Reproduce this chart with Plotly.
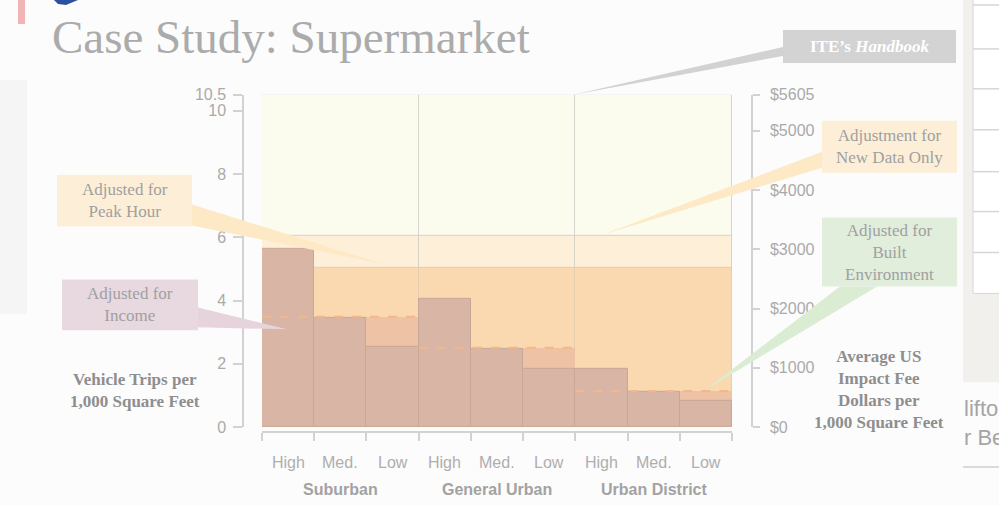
import plotly.graph_objects as go

# ---------------- data ----------------
groups = ["Suburban", "General Urban", "Urban District"]
levels = ["High", "Med.", "Low", "High", "Med.", "Low", "High", "Med.", "Low"]
trips_built_env = [5.63, 3.45, 2.54, 4.05, 2.48, 1.83, 1.85, 1.11, 0.83]
trips_income = [3.49, 2.51, 1.14]
trips_ite = [10.5, 10.5, 10.5]
trips_new_data = [6.05, 6.05, 6.05]
trips_peak = [5.03, 5.03, 5.03]
left_ticks = [0, 2, 4, 6, 8, 10, 10.5]
fee_ticks = [0, 1000, 2000, 3000, 4000, 5000, 5605]
fee_labels = ["$0", "$1000", "$2000", "$3000", "$4000", "$5000", "$5605"]

W, H = 999, 505
# the page shows the figure between y=8 and y=497 of the window
def px(x): return x / W
def py(y): return 1 - (y - 8) / 489

n = len(levels)
xc = [i + 0.5 for i in range(n)]
gc = [3 * g + 1.5 for g in range(len(groups))]

SERIF = "Liberation Serif"
SANS = "Liberation Sans"

fig = go.Figure()

def band(vals, color, line_color, line_w):
    fig.add_trace(go.Bar(x=gc, y=vals, width=3, marker=dict(color=color, line=dict(color=line_color, width=line_w)),
                         hoverinfo="skip", showlegend=False))

band(trips_ite, "#FCFCEE", "#D6D6CE", 1)
band(trips_new_data, "#FEF0D8", "#D8D2C4", 1)
band(trips_peak, "#FAD9B0", "#E6CDB2", 1)
fig.add_trace(go.Bar(x=gc, y=trips_income, width=3, marker=dict(color="#EEC2A4", line=dict(width=0)),
                     hoverinfo="skip", showlegend=False))
fig.add_trace(go.Bar(x=xc, y=trips_built_env, width=1,
                     marker=dict(color="#D9B5A5", line=dict(color="#C7A797", width=1)),
                     hoverinfo="skip", showlegend=False))
for g, v in enumerate(trips_income):
    fig.add_trace(go.Scatter(x=[3 * g, 3 * g + 3], y=[v, v], mode="lines",
                             line=dict(color="#F2B888", width=2, dash="dash"),
                             hoverinfo="skip", showlegend=False))
# invisible trace for secondary axes
fig.add_trace(go.Scatter(x=[0, n], y=[0, fee_ticks[-1]], xaxis="x2", yaxis="y2", mode="markers",
                         marker=dict(opacity=0), hoverinfo="skip", showlegend=False))

dom_x = [px(262), px(732)]
dom_y = [py(428), py(95)]
tickfont = dict(family=SANS, size=16, color="#AAAAAA")

fig.update_layout(
    width=W, height=H, margin=dict(l=0, r=0, t=0, b=0),
    paper_bgcolor="#FCFCFC", plot_bgcolor="rgba(0,0,0,0)",
    barmode="overlay", bargap=0, showlegend=False,
    xaxis=dict(domain=dom_x, range=[0, n], showline=False, showgrid=False, zeroline=False,
               showticklabels=False, ticks="", fixedrange=True),
    xaxis2=dict(overlaying="x", anchor="free", position=py(433), range=[0, n],
                showline=True, linecolor="#D2D2D2", linewidth=1.5, showgrid=False, zeroline=False,
                tickvals=list(range(n + 1)), ticks="outside", ticklen=8, tickcolor="#D2D2D2",
                tickwidth=1.5, showticklabels=False),
    yaxis=dict(domain=dom_y, range=[0, 10.5], anchor="free", position=px(243), side="left",
               showline=True, linecolor="#D2D2D2", linewidth=1.5, showgrid=False, zeroline=False,
               tickvals=left_ticks, ticktext=[str(t) for t in left_ticks], ticks="outside",
               ticklen=9, tickcolor="#D2D2D2", tickwidth=1.5, tickfont=tickfont, ticklabelstandoff=4),
    yaxis2=dict(overlaying="y", range=[0, fee_ticks[-1]], anchor="free", position=px(752), side="right",
                showline=True, linecolor="#D2D2D2", linewidth=1.5, showgrid=False, zeroline=False,
                tickvals=fee_ticks, ticktext=fee_labels, ticks="outside", ticklen=7,
                tickcolor="#D2D2D2", tickwidth=1.5, tickfont=tickfont, ticklabelstandoff=7),
)

shapes = []
def path(pts, color):
    d = "M " + " L ".join(f"{px(x)},{py(y)}" for x, y in pts) + " Z"
    shapes.append(dict(type="path", path=d, xref="paper", yref="paper", fillcolor=color,
                       line=dict(width=0), layer="above"))

def rect(x0, y0, x1, y1, color, line_color=None, layer="below"):
    shapes.append(dict(type="rect", xref="paper", yref="paper", x0=px(x0), x1=px(x1), y0=py(y1), y1=py(y0),
                       fillcolor=color, line=dict(width=1 if line_color else 0, color=line_color or color),
                       layer=layer))

# slide decorations
rect(0, 80, 27, 315, "#F5F5F5")
rect(963, 0, 999, 383, "#F1F0ED")
rect(973, -5, 1003, 294, "#FFFFFF", "#D6D6D6")
for yy in [5, 49, 89, 130, 172, 212, 253]:
    shapes.append(dict(type="line", xref="paper", yref="paper", x0=px(973), x1=px(999), y0=py(yy), y1=py(yy),
                       line=dict(color="#D6D6D6", width=1.5), layer="below"))
shapes.append(dict(type="line", xref="paper", yref="paper", x0=px(963), x1=px(999), y0=py(468), y1=py(468),
                   line=dict(color="#CFCFCF", width=1.5), layer="below"))
rect(18, 0, 25, 24, "#F2B5B5")
path([(54, 0), (58, 4), (66, 5), (78, 0)], "#2C50A0")

# callout pointers
path([(783, 47), (783, 56), (573, 95)], "#D2D2D2")
path([(822, 152), (822, 168), (603, 235)], "#FDE9C6")
path([(840, 287), (877, 287), (705, 391)], "#DAECD2")
path([(192, 205), (192, 226), (385, 265)], "#FDE9C6")
path([(198, 308), (198, 328), (287, 330)], "#E6D3DC")

ann = []
def box(x0, y0, x1, y1, text, bg, color="#A0A0A0", size=17):
    rect(x0, y0, x1, y1, bg, layer="above")
    ann.append(dict(x=px((x0 + x1) / 2), y=py((y0 + y1) / 2), xref="paper", yref="paper", text=text,
                    showarrow=False, font=dict(family=SERIF, size=size, color=color),
                    xanchor="center", yanchor="middle"))

box(783, 30, 956, 63, "<b>ITE’s <i>Handbook</i></b>", "#D3D3D3", color="#FFFFFF", size=17)
box(822, 121, 957, 173, "Adjustment for<br>New Data Only", "#FDEFD7")
box(822, 218, 957, 287, "Adjusted for<br>Built<br>Environment", "#E1EEDB")
box(57, 175, 192, 227, "Adjusted for<br>Peak Hour", "#FDEFD7")
box(62, 280, 198, 331, "Adjusted for<br>Income", "#E8D8E0")
fig.update_layout(shapes=shapes)

ann.append(dict(x=px(50), y=py(37), xref="paper", yref="paper", text="Case Study: Supermarket",
                showarrow=False, xanchor="left", yanchor="middle",
                font=dict(family=SERIF, size=47, color="#ABABAB")))
ann.append(dict(x=px(135), y=py(391), xref="paper", yref="paper",
                text="<b>Vehicle Trips per<br>1,000 Square Feet</b>", showarrow=False,
                font=dict(family=SERIF, size=17, color="#8E8E8E"), xanchor="center", yanchor="middle"))
ann.append(dict(x=px(879), y=py(390), xref="paper", yref="paper",
                text="<b>Average US<br>Impact Fee<br>Dollars per<br>1,000 Square Feet</b>", showarrow=False,
                font=dict(family=SERIF, size=17, color="#8E8E8E"), xanchor="center", yanchor="middle"))
for i, lab in enumerate(levels):
    ann.append(dict(x=xc[i], y=py(463), xref="x", yref="paper", text=lab, showarrow=False,
                    font=dict(family=SANS, size=16, color="#AEAEAE"), xanchor="center", yanchor="middle"))
for g, lab in enumerate(groups):
    ann.append(dict(x=gc[g], y=py(490), xref="x", yref="paper", text=f"<b>{lab}</b>", showarrow=False,
                    font=dict(family=SANS, size=16, color="#A2A2A2"), xanchor="center", yanchor="middle"))
ann.append(dict(x=px(962), y=py(409), xref="paper", yref="paper", text="lifto", showarrow=False,
                font=dict(family=SANS, size=22, color="#A5A5A5"), xanchor="left", yanchor="middle"))
ann.append(dict(x=px(962), y=py(438), xref="paper", yref="paper", text="r Be", showarrow=False,
                font=dict(family=SANS, size=22, color="#A5A5A5"), xanchor="left", yanchor="middle"))
fig.update_layout(annotations=ann)

fig.write_html("out.html", config={"displayModeBar": False},
               post_script="document.documentElement.style.margin='0';document.body.style.margin='0';"
                           "document.body.style.overflow='hidden';"
                           "document.documentElement.style.overflow='hidden';"
                           "document.documentElement.style.background='#FCFCFC';"
                           "document.body.style.background='#FCFCFC';")
